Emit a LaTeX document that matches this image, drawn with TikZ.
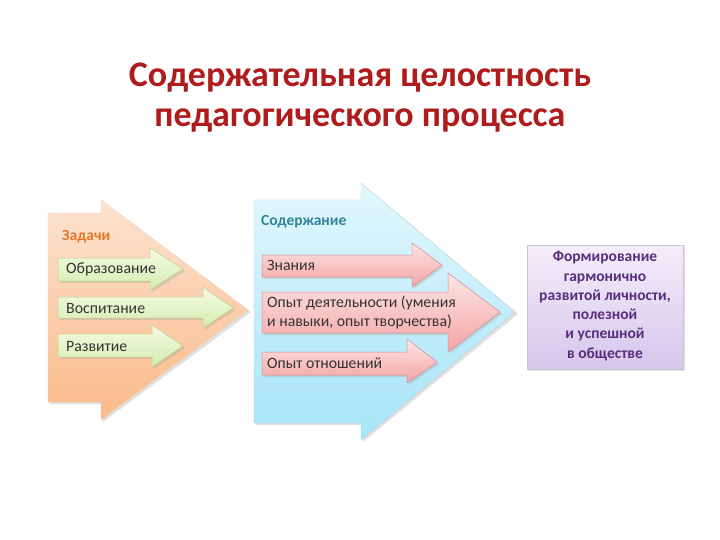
\documentclass[tikz,border=0pt]{standalone}
\usepackage{fontspec}
\setmainfont{Carlito}
\definecolor{titlered}{HTML}{B01C1C}
\definecolor{orangetop}{HTML}{FCE3D0}
\definecolor{orangebot}{HTML}{FBBA88}
\definecolor{bluetop}{HTML}{E2F7FD}
\definecolor{bluebot}{HTML}{A6E4F9}
\definecolor{greentop}{HTML}{F6FBE6}
\definecolor{greenbot}{HTML}{D3ECAE}
\definecolor{greenedge}{HTML}{B5D38A}
\definecolor{pinktop}{HTML}{FDE6E6}
\definecolor{pinkbot}{HTML}{F4A3A3}
\definecolor{pinkedge}{HTML}{D98A8A}
\definecolor{purpletop}{HTML}{F3EEF9}
\definecolor{purplebot}{HTML}{D6C6EC}
\definecolor{purpletext}{HTML}{5A2D7E}
\definecolor{orangetext}{HTML}{E0782A}
\definecolor{tealtext}{HTML}{31849B}
\definecolor{shadowgray}{HTML}{9A9A9A}
\tikzset{
  bigorange/.style={top color=orangetop,bottom color=orangebot,draw=orangebot!80!black!40,line width=0.4pt},
  bigblue/.style={top color=bluetop,bottom color=bluebot,draw=bluebot!70!black!50,line width=0.4pt},
  greenarrow/.style={top color=greentop,bottom color=greenbot,draw=greenedge,line width=0.5pt},
  pinkarrow/.style={top color=pinktop,bottom color=pinkbot,draw=pinkedge,line width=0.5pt},
  shade/.style={fill=shadowgray,opacity=0.3},
  itemtext/.style={anchor=west,font=\fontsize{15.8}{19}\selectfont,text=black!80,inner sep=0pt},
  headtext/.style={anchor=west,font=\fontsize{15.5}{18}\selectfont\bfseries,inner sep=0pt},
}
\newcommand{\arrowpath}[8]{(#1,#2) -- (#3,#2) -- (#3,#4) -- (#5,#6) -- (#3,#7) -- (#3,#8) -- (#1,#8) -- cycle}
\begin{document}
\begin{tikzpicture}[x=1pt,y=-1pt]
\useasboundingbox (0,0) rectangle (720,540);
\fill[white] (0,0) rectangle (720,540);
% title
\node[font=\fontsize{36}{40}\selectfont\bfseries,text=titlered,align=center] (title) at (360,98) {Содержательная целостность\\педагогического процесса};
% orange big arrow
\fill[shade] \arrowpath{50}{215}{103}{202}{251}{312}{422}{404};
\path[bigorange] \arrowpath{48}{213}{101}{200}{248}{310}{420}{402};
\node[headtext,text=orangetext] (zadachi) at (62,237) {Задачи};
% green arrows
\fill[shade] \arrowpath{60}{260}{152}{250}{185}{271}{292}{283};
\path[greenarrow] \arrowpath{58}{258}{150}{248}{183}{269}{290}{281};
\node[itemtext] (obr) at (66,269) {Образование};
\fill[shade] \arrowpath{60}{299}{205}{289}{235}{310}{330}{320};
\path[greenarrow] \arrowpath{58}{297}{203}{287}{233}{308}{328}{318};
\node[itemtext] (vosp) at (66,308) {Воспитание};
\fill[shade] \arrowpath{60}{336}{154}{327}{185}{348}{369}{359};
\path[greenarrow] \arrowpath{58}{334}{152}{325}{183}{346}{367}{357};
\node[itemtext] (razv) at (66,346) {Развитие};
% blue big arrow
\fill[shade] \arrowpath{256}{202}{363}{185}{518}{314}{442}{425};
\path[bigblue] \arrowpath{254}{200}{361}{183}{515}{312}{440}{423};
\node[headtext,text=tealtext] (soder) at (261,222) {Содержание};
% pink arrows
\fill[shade] \arrowpath{264}{257}{414}{245}{444}{267}{289}{279};
\path[pinkarrow] \arrowpath{262}{255}{412}{243}{442}{265}{287}{277};
\node[itemtext] (znan) at (267,265) {Знания};
\fill[shade] \arrowpath{264}{294}{450}{275}{502}{314}{354}{335};
\path[pinkarrow] \arrowpath{262}{292}{448}{273}{500}{312}{352}{333};
\node[itemtext,align=left] (opyt) at (267,312) {Опыт деятельности (умения\\и навыки, опыт творчества)};
\fill[shade] \arrowpath{264}{354}{409}{341}{439}{364}{385}{377};
\path[pinkarrow] \arrowpath{262}{352}{407}{339}{437}{362}{383}{375};
\node[itemtext] (otn) at (267,363) {Опыт отношений};
% purple box
\fill[shade] (529,247) rectangle (685,371);
\path[top color=purpletop,bottom color=purplebot,draw=purplebot!70!black!50,line width=0.4pt] (527,245) rectangle (683,369);
\node[font=\fontsize{15.5}{19.3}\selectfont\bfseries,text=purpletext,align=center] (result) at (605,306) {Формирование\\гармонично\\развитой личности,\\полезной\\и успешной\\в обществе};
\end{tikzpicture}
\end{document}
